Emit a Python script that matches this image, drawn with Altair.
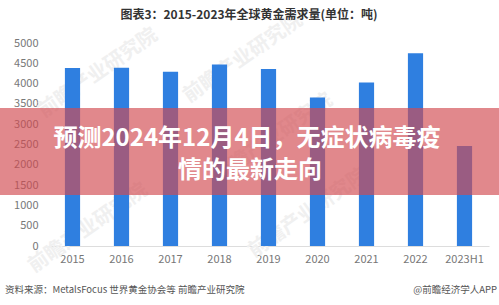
import altair as alt
import pandas as pd

years = ["2015", "2016", "2017", "2018", "2019", "2020", "2021", "2022", "2023H1"]
demand = [4385, 4390, 4290, 4470, 4360, 3655, 4025, 4750, 2460]
y_ticks = [0, 500, 1000, 1500, 2000, 2500, 3000, 3500, 4000, 4500, 5000]

title_text = "图表3：2015-2023年全球黄金需求量(单位：吨)"
banner_lines = ["预测2024年12月4日，无症状病毒疫", "情的最新走向"]
source_text = "资料来源：MetalsFocus 世界黄金协会等 前瞻产业研究院"
brand_text = "@前瞻经济学人APP"
watermark_text = "前瞻产业研究院"

df = pd.DataFrame({"year": years, "demand": demand})
FONT = "Noto Sans CJK SC"
W, H = 441, 203

base = alt.Chart(df)

bars = base.mark_bar(color="#2f7fe0").encode(
    x=alt.X("year:N", sort=years, title=None,
            scale=alt.Scale(paddingInner=0.69, paddingOuter=0.345),
            axis=alt.Axis(labelAngle=0, ticks=False, domainColor="#dddddd",
                          labelColor="#777777", labelFont=FONT, labelFontSize=11,
                          labelPadding=7, grid=False)),
    y=alt.Y("demand:Q", title=None,
            scale=alt.Scale(domain=[0, 5000], nice=False),
            axis=alt.Axis(values=y_ticks, format="d", ticks=False, domain=False, grid=False,
                          labelColor="#777777", labelFont=FONT, labelFontSize=11,
                          labelPadding=10)),
)

one = pd.DataFrame({"k": [0]})

wm_pos = [(0, 20), (145, 5), (175, 85), (-10, 175), (210, 160)]
watermarks = []
for (xx, yy) in wm_pos:
    watermarks.append(
        alt.Chart(one).mark_text(text=watermark_text, font=FONT, fontSize=20,
                                 fontWeight="bold", color="#f0f0f0", angle=325,
                                 align="center", baseline="middle").encode(
            x=alt.value(xx + 50), y=alt.value(yy + 10))
    )

title = alt.Chart(one).mark_text(
    text=title_text, font=FONT, fontSize=12, fontWeight="bold", color="#333333",
    align="center", baseline="middle").encode(x=alt.value(201), y=alt.value(-28))

banner = alt.Chart(one).mark_rect(color="#d24b50", opacity=0.66).encode(
    x=alt.value(-48), x2=alt.value(451), y=alt.value(65), y2=alt.value(152))

line1 = alt.Chart(one).mark_text(
    text=banner_lines[0], font=FONT, fontSize=24, fontWeight="bold", color="white",
    align="center", baseline="middle").encode(x=alt.value(199), y=alt.value(96))
line2 = alt.Chart(one).mark_text(
    text=banner_lines[1], font=FONT, fontSize=24, fontWeight="bold", color="white",
    align="center", baseline="middle").encode(x=alt.value(202), y=alt.value(128))

source = alt.Chart(one).mark_text(
    text=source_text, font=FONT, fontSize=9.5, color="#555555",
    align="left", baseline="middle").encode(x=alt.value(-43), y=alt.value(247))
brand = alt.Chart(one).mark_text(
    text=brand_text, font=FONT, fontSize=9.5, color="#555555",
    align="right", baseline="middle").encode(x=alt.value(449), y=alt.value(247))

chart = alt.layer(*watermarks, bars, title, banner, line1, line2, source, brand).properties(
    width=W, height=H,
    autosize=alt.AutoSizeParams(type="none"),
    padding={"left": 48, "top": 43, "right": 10, "bottom": 59},
    background="white",
).configure_view(stroke=None)

chart.save("out.html", embed_options={"renderer": "svg", "actions": False})
